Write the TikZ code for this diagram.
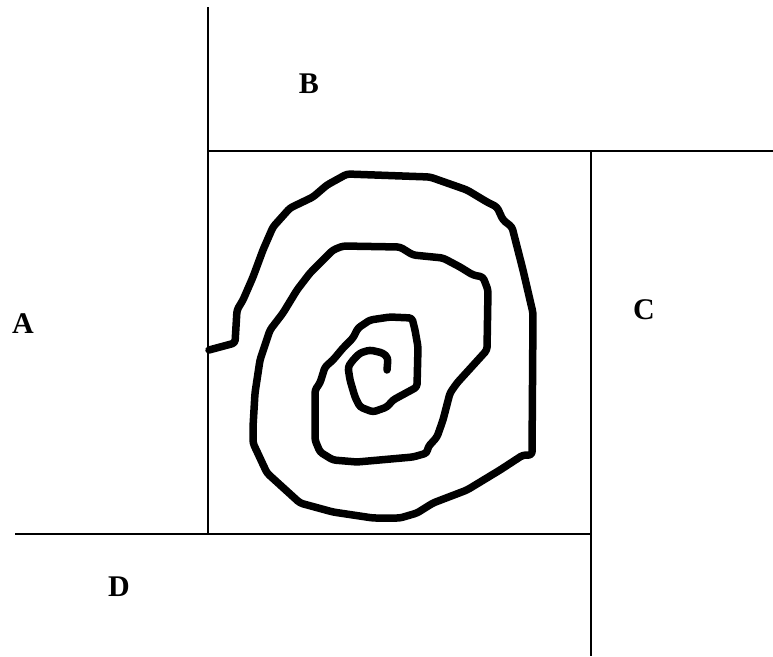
\documentclass[tikz,border=0pt]{standalone}
\usepackage{fontspec}
\setmainfont{Liberation Serif}
\begin{document}
\begin{tikzpicture}[x=1pt,y=-1pt,
  thinline/.style={line width=1.8pt,black},
  spiral/.style={line width=7.5pt,black,line join=round,line cap=round,rounded corners=3pt},
  lbl/.style={font=\fontsize{30}{30}\selectfont\bfseries,inner sep=0pt}]
\useasboundingbox (0,0) rectangle (773,656);
% region borders
\coordinate (vt) at (208,7);
\coordinate (vb) at (208,534);
\coordinate (hl) at (208,151);
\coordinate (hr) at (773,151);
\coordinate (rt) at (591,151);
\coordinate (rb) at (591,656);
\coordinate (bl) at (15,534);
\coordinate (br) at (591,534);
\draw[thinline] (vt) -- (vb);
\draw[thinline] (hl) -- (hr);
\draw[thinline] (rt) -- (rb);
\draw[thinline] (bl) -- (br);
% labels
\node[lbl] (A) at (23,324) {A};
\node[lbl] (B) at (309,84) {B};
\node[lbl] (C) at (644,310) {C};
\node[lbl] (D) at (119,587) {D};
% spiral
\draw[spiral] (209,350) -- (235,343) -- (237,310) -- (243,300) -- (253,277) -- (263,250)
 -- (273,227) -- (290,208) -- (313,197) -- (327,185) -- (347,174) -- (430,177)
 -- (467,190) -- (487,202) -- (497,207) -- (503,220) -- (512,227) -- (523,270)
 -- (533,313) -- (532,455) -- (523,455) -- (500,470) -- (467,490) -- (433,503)
 -- (417,513) -- (400,518) -- (373,518) -- (333,512) -- (300,503) -- (267,473)
 -- (253,443) -- (253,427) -- (255,393) -- (260,360) -- (270,330) -- (283,313)
 -- (297,290) -- (310,273) -- (320,263) -- (333,250) -- (343,246) -- (400,247)
 -- (413,255) -- (443,258) -- (460,267) -- (473,275) -- (483,277) -- (488,290)
 -- (487,350) -- (457,383) -- (450,393) -- (443,420) -- (437,437) -- (428,447)
 -- (427,453) -- (413,457) -- (357,462) -- (333,460) -- (320,452) -- (315,440)
 -- (315,390) -- (320,383) -- (325,367) -- (333,360) -- (343,348) -- (353,338)
 -- (358,328) -- (370,320) -- (390,317) -- (412,318) -- (415,330) -- (418,347)
 -- (417,387) -- (393,400) -- (387,407) -- (373,412) -- (360,407) -- (355,397)
 -- (350,380) -- (348,367) -- (353,360) -- (360,353) -- (370,350) -- (383,353)
 -- (388,358) -- (387,370);
\end{tikzpicture}
\end{document}
